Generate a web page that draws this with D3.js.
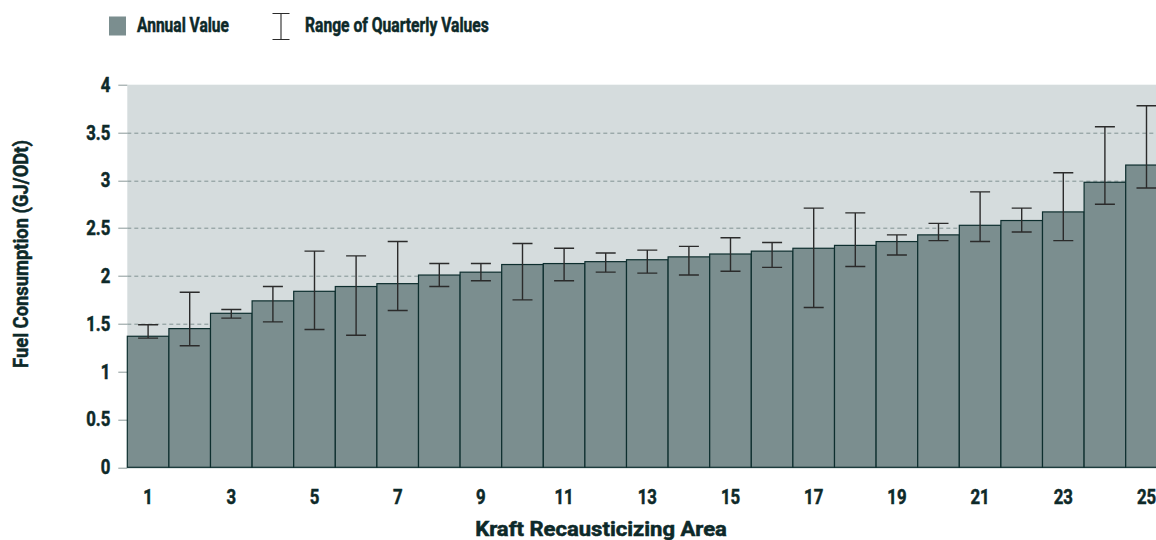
<!DOCTYPE html>
<html>
<head>
<meta charset="utf-8">
<script src="https://cdn.jsdelivr.net/npm/d3@7"></script>
<style>
  html, body { margin: 0; padding: 0; background: #fff; overflow: hidden; }
  svg text { font-family: Roboto, "DejaVu Sans Condensed", sans-serif; font-weight: bold; fill: #0d2929; stroke: #0d2929; stroke-width: 0.5px; }
</style>
</head>
<body>
<div id="chart"></div>
<script>
const width = 1156,
    height = 540;

// chart values
const areas = d3.range(1, 26);
const annual = [1.37, 1.45, 1.61, 1.74, 1.84, 1.89, 1.92, 2.01, 2.04, 2.12,
                2.13, 2.15, 2.17, 2.20, 2.23, 2.26, 2.29, 2.32, 2.36, 2.43,
                2.53, 2.58, 2.67, 2.98, 3.16];
const qMin = [1.35, 1.27, 1.56, 1.52, 1.44, 1.38, 1.64, 1.89, 1.95, 1.75,
              1.95, 2.04, 2.03, 2.01, 2.05, 2.09, 1.67, 2.10, 2.22, 2.37,
              2.36, 2.46, 2.37, 2.75, 2.92];
const qMax = [1.49, 1.83, 1.65, 1.89, 2.26, 2.21, 2.36, 2.13, 2.13, 2.34,
              2.29, 2.24, 2.27, 2.31, 2.40, 2.35, 2.71, 2.66, 2.43, 2.55,
              2.88, 2.71, 3.08, 3.56, 3.78];
const yTicks = [0, 0.5, 1, 1.5, 2, 2.5, 3, 3.5, 4];
const xTickLabels = areas.filter(d => d % 2 === 1);

const data = areas.map((a, i) => ({area: a, value: annual[i], lo: qMin[i], hi: qMax[i]}));

const marginLeft = 127.3, marginTop = 84.7, bandW = 41.6;
const plotW = bandW * areas.length,
    plotH = 382.6;
const FS = 19.5, SQUEEZE = 0.86;   // condensed look

const x = d3.scaleBand().domain(areas).range([0, plotW]).padding(0);
const y = d3.scaleLinear().domain([0, 4]).range([plotH, 0]);

const svg = d3.select('#chart')
    .append('svg')
    .attr('width', width)
    .attr('height', height);

// squeezed label at (px, py); fit = wanted width in px
function label(parent, px, py, txt, anchor, fit) {
    const t = parent.append('text')
        .attr('font-size', FS)
        .attr('text-anchor', anchor || 'start')
        .text(txt);
    let sx = SQUEEZE;
    if (fit) sx = fit / t.node().getComputedTextLength();
    t.attr('transform', `translate(${px},${py}) scale(${sx},1)`);
    return t;
}

// legend
const legend = svg.append('g');
legend.append('rect')
    .attr('x', 109).attr('y', 16.5)
    .attr('width', 17).attr('height', 19)
    .attr('fill', '#7b8e8f');
label(legend, 137, 32, 'Annual Value', 'start', 92);
legend.append('path')
    .attr('d', 'M272.5,13.5H289.5M281,13.5V39.5M272.5,39.5H289.5')
    .attr('stroke', '#2b2b2b')
    .attr('stroke-width', 1.1)
    .attr('fill', 'none');
label(legend, 305, 32, 'Range of Quarterly Values', 'start', 184);

const g = svg.append('g')
    .attr('transform', `translate(${marginLeft},${marginTop})`);

// plot background
g.append('rect')
    .attr('width', plotW)
    .attr('height', plotH + 1.5)
    .attr('fill', '#d5dcdd');

// dashed gridlines
g.selectAll('.grid')
    .data(yTicks.filter(t => t > 0 && t < 4))
    .enter()
    .append('line')
    .attr('class', 'grid')
    .attr('x1', 0).attr('x2', plotW)
    .attr('y1', d => Math.round(y(d)) + 0.5)
    .attr('y2', d => Math.round(y(d)) + 0.5)
    .attr('stroke', '#829393')
    .attr('stroke-width', 1)
    .attr('stroke-dasharray', '4,3');

// y axis ticks + labels
const yAxis = g.append('g');
yAxis.selectAll('line')
    .data(yTicks)
    .enter()
    .append('line')
    .attr('x1', -9).attr('x2', 0)
    .attr('y1', d => Math.round(y(d)) + 0.5)
    .attr('y2', d => Math.round(y(d)) + 0.5)
    .attr('stroke', '#8a9898')
    .attr('stroke-width', 1);
yTicks.forEach(t => {
    label(yAxis, -17, y(t) + 7, t, 'end');
});

// bars
g.selectAll('.bar')
    .data(data)
    .enter()
    .append('rect')
    .attr('class', 'bar')
    .attr('x', d => x(d.area))
    .attr('y', d => y(d.value))
    .attr('width', x.bandwidth())
    .attr('height', d => plotH - y(d.value))
    .attr('fill', '#7b8e8f')
    .attr('stroke', '#0d2e2e')
    .attr('stroke-width', 1.2);

// error bars
const cap = 10;
g.selectAll('.err')
    .data(data)
    .enter()
    .append('path')
    .attr('class', 'err')
    .attr('d', d => {
        const cx = x(d.area) + x.bandwidth() / 2;
        return `M${cx - cap},${y(d.hi)}H${cx + cap}M${cx},${y(d.hi)}V${y(d.lo)}M${cx - cap},${y(d.lo)}H${cx + cap}`;
    })
    .attr('stroke', '#2b2b2b')
    .attr('stroke-width', 1.4)
    .attr('fill', 'none');

// x labels
xTickLabels.forEach(a => {
    label(g, x(a) + x.bandwidth() / 2, plotH + 36.5, a, 'middle');
});

// axis titles
label(svg, 601, 536, 'Kraft Recausticizing Area', 'middle', 252);

const yt = svg.append('g').attr('transform', 'translate(28,254) rotate(-90)');
label(yt, 0, 0, 'Fuel Consumption (GJ/ODt)', 'middle', 228);
</script>
</body>
</html>
